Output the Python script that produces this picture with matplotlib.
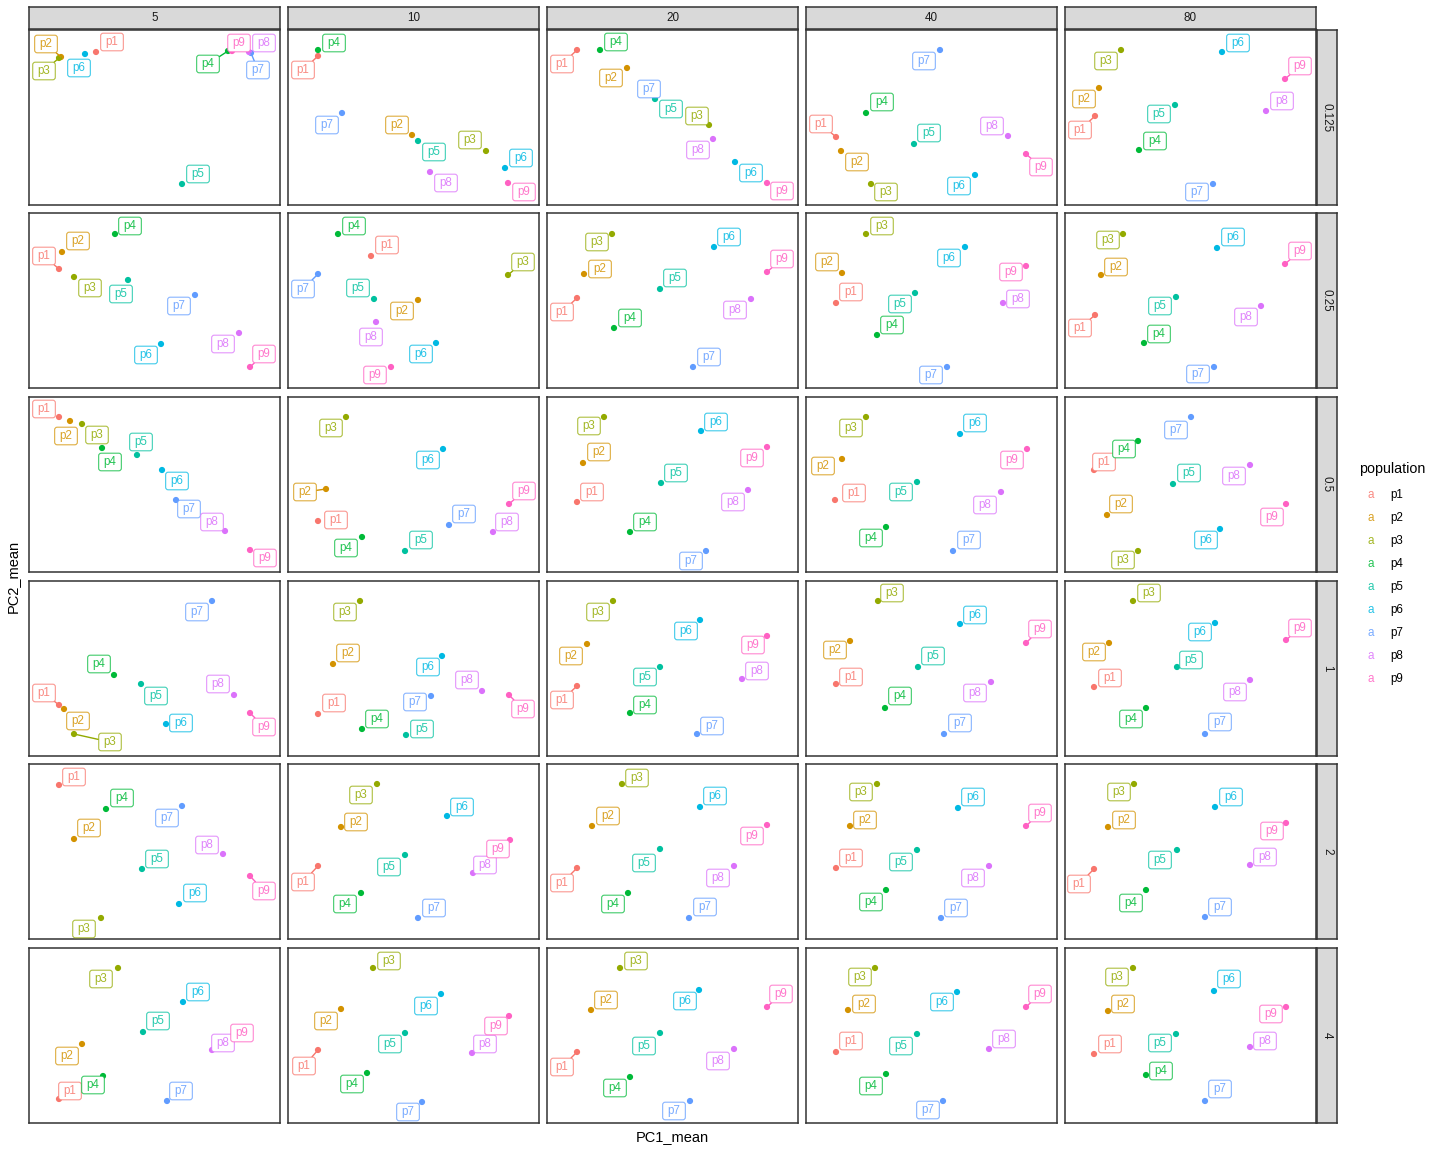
import matplotlib
matplotlib.use('Agg')
import matplotlib.pyplot as plt
from matplotlib.patches import BoxStyle
from matplotlib.colors import to_rgba

plt.rcParams['font.family'] = ['Liberation Sans', 'DejaVu Sans']

# ---------------- data ----------------
populations = ['p1', 'p2', 'p3', 'p4', 'p5', 'p6', 'p7', 'p8', 'p9']
n_values = ['5', '10', '20', '40', '80']          # facet columns
k_values = ['0.125', '0.25', '0.5', '1', '2', '4']  # facet rows

# PC1_mean / PC2_mean per row (K), one list of 9 populations per column (N)
pc1_k0125 = [[67, 32, 30, 199, 153, 56, 222, 220, 203],
             [30, 124, 198, 30, 130, 217, 54, 142, 220],
             [30, 80, 162, 53, 108, 188, 105, 166, 220],
             [30, 35, 65, 60, 108, 169, 134, 202, 220],
             [30, 34, 56, 74, 110, 157, 148, 201, 220]]
pc2_k0125 = [[153, 148, 147, 154, 21, 151, 152, 153, 154],
             [149, 70, 54, 155, 64, 37, 92, 33, 22],
             [155, 137, 80, 155, 106, 43, 113, 66, 22],
             [68, 54, 21, 92, 61, 30, 155, 69, 51],
             [89, 117, 155, 55, 100, 153, 21, 94, 126]]

pc1_k025 = [[30, 33, 45, 86, 99, 132, 166, 210, 221],
            [83, 130, 220, 50, 86, 148, 30, 88, 103],
            [30, 37, 65, 67, 113, 167, 146, 204, 220],
            [30, 36, 60, 71, 109, 159, 141, 197, 220],
            [30, 36, 58, 79, 111, 152, 149, 196, 220]]
pc2_k025 = [[119, 136, 111, 154, 108, 44, 93, 55, 21],
            [132, 88, 113, 154, 89, 45, 114, 66, 21],
            [90, 114, 154, 60, 99, 141, 21, 89, 116],
            [85, 115, 154, 53, 95, 141, 21, 85, 122],
            [73, 113, 154, 45, 91, 140, 21, 82, 124]]

pc1_k05 = [[30, 41, 53, 73, 108, 133, 147, 196, 221],
           [30, 38, 58, 74, 117, 155, 161, 205, 221],
           [30, 36, 57, 83, 114, 154, 159, 201, 220],
           [29, 36, 60, 80, 111, 154, 147, 195, 221],
           [29, 42, 73, 73, 108, 155, 126, 185, 221]]
pc2_k05 = [[155, 151, 148, 124, 117, 102, 72, 41, 22],
           [51, 83, 155, 35, 21, 123, 47, 40, 68],
           [70, 109, 155, 40, 89, 141, 21, 82, 125],
           [72, 113, 155, 45, 90, 138, 21, 80, 123],
           [102, 57, 21, 131, 88, 43, 155, 107, 68]]

pc1_k1 = [[30, 35, 45, 85, 112, 137, 183, 205, 221],
          [30, 45, 72, 74, 118, 154, 143, 194, 221],
          [30, 40, 66, 83, 113, 153, 150, 195, 220],
          [30, 44, 72, 79, 112, 154, 138, 185, 220],
          [29, 44, 68, 81, 112, 150, 140, 185, 221]]
pc2_k1 = [[51, 47, 22, 81, 72, 32, 155, 61, 43],
          [42, 92, 155, 27, 21, 100, 60, 65, 61],
          [70, 112, 155, 43, 89, 136, 22, 77, 120],
          [72, 115, 155, 48, 89, 132, 22, 74, 113],
          [69, 113, 155, 48, 89, 133, 22, 76, 116]]

pc1_k2 = [[30, 45, 72, 77, 113, 150, 153, 194, 221],
          [30, 53, 89, 73, 117, 159, 130, 185, 222],
          [30, 45, 75, 81, 113, 153, 142, 187, 220],
          [30, 44, 71, 80, 111, 152, 135, 183, 220],
          [29, 43, 69, 81, 112, 150, 140, 185, 221]]
pc2_k2 = [[154, 100, 21, 130, 70, 35, 133, 85, 63],
          [73, 112, 155, 46, 84, 123, 21, 66, 99],
          [71, 113, 155, 46, 90, 132, 21, 73, 114],
          [71, 113, 155, 49, 89, 131, 21, 73, 113],
          [70, 112, 155, 49, 89, 132, 22, 74, 116]]

pc1_k4 = [[30, 53, 89, 74, 114, 154, 138, 183, 220],
          [30, 53, 85, 79, 117, 153, 134, 184, 221],
          [30, 44, 73, 83, 113, 152, 143, 187, 220],
          [30, 42, 69, 80, 111, 151, 137, 183, 220],
          [29, 43, 68, 81, 111, 149, 140, 185, 221]]
pc2_k4 = [[24, 79, 155, 47, 91, 121, 22, 73, 95],
          [73, 114, 155, 50, 90, 129, 21, 70, 107],
          [71, 113, 155, 46, 90, 133, 22, 74, 116],
          [71, 113, 155, 49, 89, 131, 22, 74, 116],
          [69, 112, 155, 48, 89, 132, 22, 76, 116]]

pc1_rows = [pc1_k0125, pc1_k025, pc1_k05, pc1_k1, pc1_k2, pc1_k4]
pc2_rows = [pc2_k0125, pc2_k025, pc2_k05, pc2_k1, pc2_k2, pc2_k4]

# ---------------- layout of repelled labels (pixel offsets from point) ----------------
label_offsets = [
    [  # K = 0.125
        [(16, 10), (-15, 13), (-15, -13), (-20, -13), (16, 10), (-6, -14), (7, -17), (15, 9), (7, 8)],
        [(-15, -14), (-15, 10), (-16, 11), (16, 7), (16, -11), (16, 10), (-15, -12), (16, -11), (16, -9)],
        [(-15, -14), (-16, -10), (-12, 9), (16, 8), (16, -10), (16, -11), (-3, 3), (-15, -11), (15, -8)],
        [(-15, 13), (16, -11), (15, -8), (16, 11), (15, 11), (-16, -11), (-16, -11), (-16, 10), (15, -13)],
        [(-15, -14), (-15, -11), (-15, -11), (16, 9), (-16, -9), (16, 9), (-16, -8), (16, 10), (15, 13)],
    ],
    [  # K = 0.25
        [(-15, 13), (16, 11), (16, -11), (15, 8), (-7, -14), (-15, -11), (-16, -11), (-16, -11), (14, 13)],
        [(16, 11), (-16, -11), (15, 13), (16, 8), (-16, 11), (-15, -11), (-15, -15), (-5, -15), (-16, -8)],
        [(-15, -14), (16, 5), (-15, -8), (16, 10), (15, 11), (15, 10), (16, 10), (-16, -11), (15, 13)],
        [(15, 11), (-15, 11), (16, 8), (15, 10), (-15, -11), (-16, -11), (-16, -8), (15, 4), (-15, -6)],
        [(-15, -13), (15, 8), (-15, -6), (15, 9), (-16, -9), (16, 11), (-16, -7), (-15, -11), (15, 13)],
    ],
    [  # K = 0.5
        [(-15, 8), (-4, -15), (15, -11), (8, -14), (4, 13), (15, -11), (13, -9), (-13, 9), (15, -8)],
        [(18, 1), (-21, -3), (-15, -11), (-16, -11), (16, 11), (-15, -11), (15, 11), (14, 10), (15, 13)],
        [(15, 10), (16, 11), (-15, -9), (15, 10), (15, 10), (15, 9), (-15, -10), (-15, -12), (-15, -11)],
        [(19, 7), (-19, -7), (-15, -11), (-15, -11), (-16, -10), (15, 11), (16, 11), (-16, -13), (-15, -11)],
        [(10, 8), (14, 11), (-15, -9), (-14, -8), (16, 11), (-14, -11), (-15, -13), (-16, -11), (-14, -13)],
    ],
    [  # K = 1
        [(-15, 12), (14, -12), (36, -8), (-15, 11), (15, -12), (15, 1), (-15, -11), (-16, 11), (14, -14)],
        [(16, 11), (15, 11), (-15, -11), (15, 10), (16, 6), (-14, -11), (-16, -6), (-15, 11), (14, -14)],
        [(-15, -14), (-16, -12), (-15, -11), (15, 8), (-15, -10), (-14, -11), (15, 8), (15, 8), (-14, -9)],
        [(15, 7), (-15, -9), (14, 8), (15, 12), (15, 11), (15, 9), (16, 11), (-16, -11), (14, 14)],
        [(16, 9), (-15, -9), (16, 8), (-15, -11), (14, 7), (-15, -9), (15, 12), (-15, -12), (14, 12)],
    ],
    [  # K = 2
        [(15, 8), (15, 11), (-17, -11), (16, 11), (15, 10), (16, 11), (-15, -12), (-16, 9), (14, -15)],
        [(-15, -16), (15, 5), (-16, -11), (-16, -11), (-16, -12), (15, 9), (16, 10), (12, 8), (-12, -9)],
        [(-15, -15), (16, 10), (15, 6), (-15, -11), (-16, -14), (15, 11), (16, 11), (-16, -12), (-15, -11)],
        [(15, 10), (15, 6), (-16, -8), (-15, -12), (-16, -12), (15, 11), (15, 10), (-16, -12), (14, 13)],
        [(-15, -15), (16, 7), (-15, -8), (-15, -13), (-17, -10), (16, 10), (15, 10), (15, 8), (-14, -8)],
    ],
    [  # K = 4
        [(11, 8), (-15, -12), (-17, -11), (-10, -9), (15, 11), (15, 10), (14, 10), (11, 7), (-7, -5)],
        [(-14, -16), (-15, -12), (16, 7), (-15, -11), (-15, -11), (-15, -12), (-14, -10), (13, 9), (-13, -10)],
        [(-15, -15), (15, 10), (16, 7), (-15, -11), (-16, -13), (-14, -11), (-16, -10), (-16, -12), (14, 13)],
        [(15, 11), (16, 6), (-15, -9), (-15, -12), (-16, -12), (-15, -10), (-15, -9), (15, 10), (14, 13)],
        [(16, 10), (15, 7), (-16, -9), (15, 4), (-16, -9), (15, 12), (15, 12), (15, 6), (-15, -7)],
    ],
]

# labels that get a connecting segment (ggrepel style)
segment_labels = [
    ['p2 p3 p4 p7', 'p1', 'p1', 'p1 p9', 'p1 p9'],
    ['p1 p9', 'p3 p7', 'p1 p9', '', 'p1 p9'],
    ['', 'p2 p9', '', '', ''],
    ['p1 p3 p9', 'p9', 'p1', 'p9', 'p9'],
    ['p9', 'p1', 'p1', 'p9', 'p1'],
    ['', 'p1', 'p1 p9', 'p9', ''],
]

# ---------------- style ----------------
colors = ['#F8766D', '#D39200', '#93AA00', '#00BA38', '#00C19F',
          '#00B9E3', '#619CFF', '#DB72FB', '#FF61C3']
W, H = 1440, 1152
col_lefts = [29, 288, 547, 806, 1065]
row_tops = [30, 213, 397, 581, 764, 948]
PW, PH = 251, 175
BORDER = '#333333'
STRIP_FILL = '#D9D9D9'


def rect(L, T, w, h):
    return [L / W, 1 - (T + h) / H, w / W, h / H]


def label_box(x0, y0, width, height, mutation_size):
    px = 0.42 * mutation_size
    py = 0.24 * mutation_size
    return BoxStyle.Round(pad=0, rounding_size=0.22)(
        x0 - px, y0 - py, width + 2 * px, height + 2 * py, mutation_size)


fig = plt.figure(figsize=(W / 100, H / 100), dpi=100)
fig.patch.set_facecolor('white')

for r, k in enumerate(k_values):
    T = row_tops[r]
    for c, n in enumerate(n_values):
        L = col_lefts[c]
        ax = fig.add_axes(rect(L, T, PW, PH))
        ax.set_xlim(0, PW)
        ax.set_ylim(0, PH)
        ax.set_xticks([])
        ax.set_yticks([])
        for s in ax.spines.values():
            s.set_color(BORDER)
            s.set_linewidth(1.1)
        xs = pc1_rows[r][c]
        ys = pc2_rows[r][c]
        ax.scatter(xs, ys, c=colors, s=20, linewidths=0, zorder=2, clip_on=False)
        segs = segment_labels[r][c].split()
        for i, pop in enumerate(populations):
            dx, dy = label_offsets[r][c][i]
            col = colors[i]
            arrow = None
            if pop in segs:
                arrow = dict(arrowstyle='-', color=col, lw=1.0,
                             shrinkA=0, shrinkB=0)
            ax.annotate(pop, xy=(xs[i], ys[i]), xytext=(dx, dy),
                        textcoords='offset pixels', ha='center', va='center',
                        fontsize=8.4, color=to_rgba(col, 0.85),
                        bbox=dict(boxstyle=label_box, fc='white',
                                  ec=to_rgba(col, 0.75), lw=0.8),
                        arrowprops=arrow, annotation_clip=False, zorder=3)

        # top strip
        if r == 0:
            sax = fig.add_axes(rect(L, 7, PW, 22))
            sax.set_facecolor(STRIP_FILL)
            sax.set_xticks([])
            sax.set_yticks([])
            for s in sax.spines.values():
                s.set_color(BORDER)
                s.set_linewidth(1.1)
            sax.text(0.5, 0.5, n, ha='center', va='center', fontsize=8.4,
                     color='#1A1A1A', transform=sax.transAxes)
    # right strip
    rax = fig.add_axes(rect(1317, T, 20, PH))
    rax.set_facecolor(STRIP_FILL)
    rax.set_xticks([])
    rax.set_yticks([])
    for s in rax.spines.values():
        s.set_color(BORDER)
        s.set_linewidth(1.1)
    rax.text(0.5, 0.5, k, ha='center', va='center', rotation=-90,
             fontsize=8.4, color='#1A1A1A', transform=rax.transAxes)

# axis titles
fig.text(672.5 / W, 1 - 1137 / H, 'PC1_mean', ha='center', va='center',
         fontsize=10.5, color='black')
fig.text(13 / W, 1 - 576 / H, 'PC2_mean', ha='center', va='center',
         rotation=90, fontsize=10.5, color='black')

# legend
fig.text(1359 / W, 1 - 469 / H, 'population', ha='left', va='center',
         fontsize=10.3, color='black')
for i, pop in enumerate(populations):
    y = 1 - (495 + 23 * i) / H
    fig.text(1371 / W, y, 'a', ha='center', va='center', fontsize=8.4,
             color=to_rgba(colors[i], 0.85))
    fig.text(1390 / W, y, pop, ha='left', va='center', fontsize=8.4,
             color='black')

fig.savefig('out.png', dpi=100)
